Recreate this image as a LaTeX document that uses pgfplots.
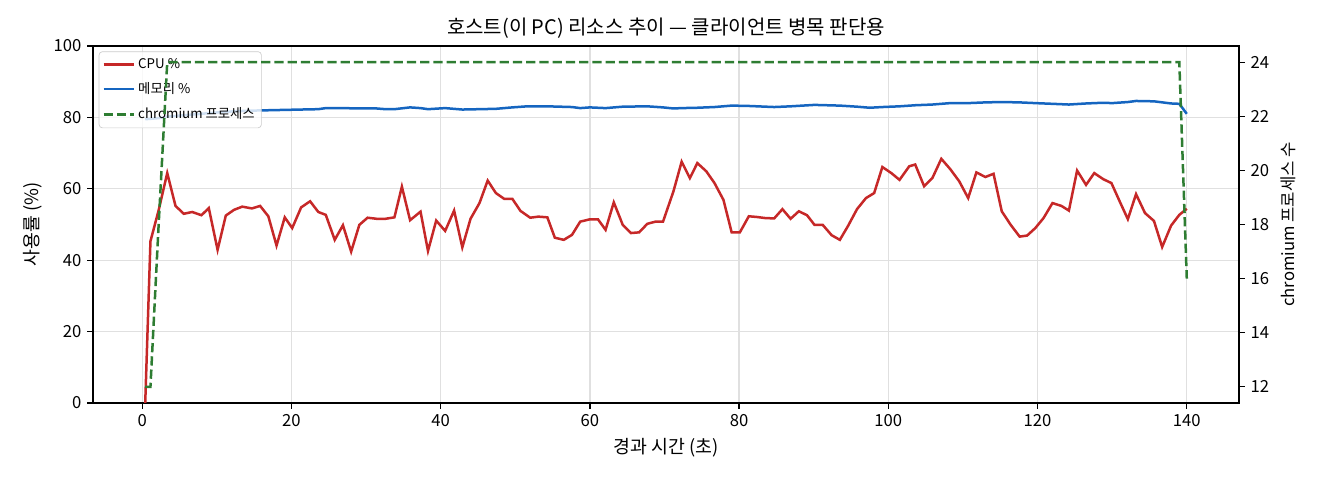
\documentclass[border=0pt]{standalone}
\usepackage{fontspec}
\setmainfont{Noto Sans CJK KR}
\usepackage{pgfplots}
\pgfplotsset{compat=1.18}
\definecolor{cpured}{HTML}{C62828}
\definecolor{memblue}{HTML}{1565C0}
\definecolor{procgreen}{HTML}{2E7D32}

\begin{document}
\begin{tikzpicture}
\path[use as bounding box] (-55.8pt,-46.2pt) rectangle (736.2pt,241.8pt);
\pgfplotsset{
  every axis/.append style={
    scale only axis, width=687.6pt, height=214.2pt,
    at={(0,0)}, anchor=south west,
    xmin=-6.6, xmax=147,
    tick align=outside, major tick length=3.5pt,
    tick style={black, line width=0.8pt},
    axis line style={line width=0.8pt},
    /pgf/number format/assume math mode=true,
    tick label style={font=\fontsize{10}{12}\selectfont},
    label style={font=\fontsize{10}{12}\selectfont},
  }
}
% left axis: CPU and memory
\begin{axis}[
  ymin=0, ymax=100,
  ytick={0,20,...,100}, xtick={0,20,...,140},
  xtick pos=bottom, ytick pos=left,
  grid=major, grid style={black!12, line width=0.8pt},
  title={호스트(이 PC) 리소스 추이 — 클라이언트 병목 판단용},
  title style={font=\fontsize{12}{14}\selectfont, yshift=-5pt},
  xlabel={경과 시간 (초)}, ylabel={사용률 (\%)},
  xlabel style={font=\fontsize{11}{13}\selectfont},
  ylabel style={font=\fontsize{11}{13}\selectfont},
  legend style={at={(0.005,0.985)}, anchor=north west,
    font=\fontsize{8}{9}\selectfont, draw=black!20, fill=white,
    fill opacity=0.8, text opacity=1, rounded corners=2pt,
    row sep=3pt, inner sep=2pt},
  legend cell align=left,
  legend image code/.code={\draw[#1] (0pt,0pt) -- (18pt,0pt);},
]
\addplot[cpured, line width=1.5pt] coordinates {
(0.4,0)(1.1,45.3)(2.2,54.0)(3.35,64.4)(4.46,55.2)(5.57,53.0)(6.69,53.5)
(7.94,52.6)(8.92,54.6)(10.1,42.9)(11.2,52.5)(12.3,54.1)(13.4,55.0)
(14.7,54.5)(15.8,55.2)(16.9,52.3)(18.0,44.1)(19.1,52.0)(20.1,49.0)
(21.3,54.8)(22.5,56.5)(23.6,53.5)(24.6,52.7)(25.8,45.7)(26.9,49.8)
(28.0,42.4)(29.1,49.9)(30.2,51.9)(31.4,51.6)(32.6,51.6)(33.8,52.0)
(34.8,60.6)(35.9,51.2)(37.3,53.6)(38.3,42.6)(39.4,51.1)(40.6,48.2)
(41.8,53.9)(42.9,43.6)(44.0,51.6)(45.2,56.0)(46.3,62.3)(47.4,58.8)
(48.5,57.2)(49.6,57.2)(50.7,53.8)(52.0,51.9)(53.1,52.2)(54.3,52.0)
(55.3,46.3)(56.5,45.7)(57.6,47.1)(58.7,50.8)(59.9,51.4)(61.1,51.4)
(62.1,48.5)(63.2,56.2)(64.4,49.9)(65.5,47.6)(66.6,47.8)(67.7,50.2)
(68.8,50.8)(69.8,50.8)(71.2,59.3)(72.3,67.6)(73.4,63.0)(74.4,67.2)
(75.6,64.9)(76.7,61.6)(77.9,56.9)(79.0,47.8)(80.1,47.8)(81.3,52.3)
(82.4,52.1)(83.5,51.8)(84.7,51.7)(85.8,54.3)(86.9,51.6)(88.0,53.7)
(89.1,52.6)(90.1,49.9)(91.2,49.9)(92.4,47.0)(93.5,45.7)(94.6,49.6)
(95.8,54.3)(97.0,57.4)(98.1,58.8)(99.2,66.1)(100.4,64.4)(101.5,62.5)
(102.8,66.3)(103.6,66.8)(104.8,60.7)(105.9,63.0)(107.1,68.4)(108.3,65.5)
(109.5,62.1)(110.7,57.4)(111.8,64.6)(113.0,63.3)(114.1,64.2)(115.2,53.7)
(116.4,49.9)(117.6,46.6)(118.6,46.9)(119.7,49.0)(120.8,51.8)(122.0,56.0)
(123.2,55.2)(124.2,53.9)(125.3,65.1)(126.5,61.1)(127.6,64.4)(128.8,62.7)
(129.9,61.6)(131.0,56.5)(132.1,51.5)(133.2,58.5)(134.4,53.2)(135.6,51.0)
(136.7,43.7)(137.9,49.7)(139.0,52.7)(140.0,54.4)
};
\addlegendentry{CPU \%}
\addplot[memblue, line width=1.5pt] coordinates {
(0.4,79.5)(1.1,79.6)(2.2,79.8)(3.35,80.2)(5.6,80.6)(7.9,81.0)(10.1,81.4)
(12.3,81.7)(14.7,81.9)(16.9,82.0)(19.1,82.1)(21.3,82.2)(23.6,82.3)
(24.6,82.6)(26.9,82.6)(29.1,82.5)(31.4,82.5)(32.6,82.3)(33.8,82.3)
(35.9,82.8)(37.3,82.6)(38.3,82.3)(40.6,82.6)(42.9,82.2)(45.2,82.3)
(47.4,82.4)(49.6,82.8)(51.6,83.1)(54.3,83.1)(57.6,82.9)(58.7,82.6)
(60.0,82.8)(62.1,82.6)(64.4,83.0)(67.7,83.1)(69.8,82.8)(71.2,82.5)
(72.3,82.6)(74.4,82.7)(76.7,82.9)(79.0,83.3)(81.3,83.2)(84.7,82.9)
(86.9,83.1)(90.1,83.5)(93.5,83.3)(95.8,83.0)(97.5,82.7)(99.2,82.9)
(101.5,83.1)(103.6,83.4)(105.9,83.6)(108.3,84.0)(110.7,84.0)(113.0,84.2)
(115.2,84.3)(117.6,84.2)(119.7,84.0)(122.0,83.8)(124.2,83.6)(126.5,83.9)
(128.8,84.1)(130.0,84.0)(132.1,84.3)(133.2,84.6)(135.6,84.5)(137.9,83.9)
(139.0,83.8)(140.0,81.0)
};
\addlegendentry{메모리 \%}
\addlegendimage{procgreen, line width=1.5pt, dash pattern=on 5.55pt off 2.4pt}
\addlegendentry{chromium 프로세스}
\end{axis}
% right axis: process count
\begin{axis}[
  axis x line=none, axis y line*=right,
  ymin=11.4, ymax=24.6, ytick={12,14,...,24},
  ylabel={chromium 프로세스 수},
]
\addplot[procgreen, line width=1.5pt, dash pattern=on 5.55pt off 2.4pt] coordinates {
(0.4,12)(1.1,12)(2.2,18)(3.35,24)(139.0,24)(140.0,16)
};
\end{axis}
\end{tikzpicture}
\end{document}
